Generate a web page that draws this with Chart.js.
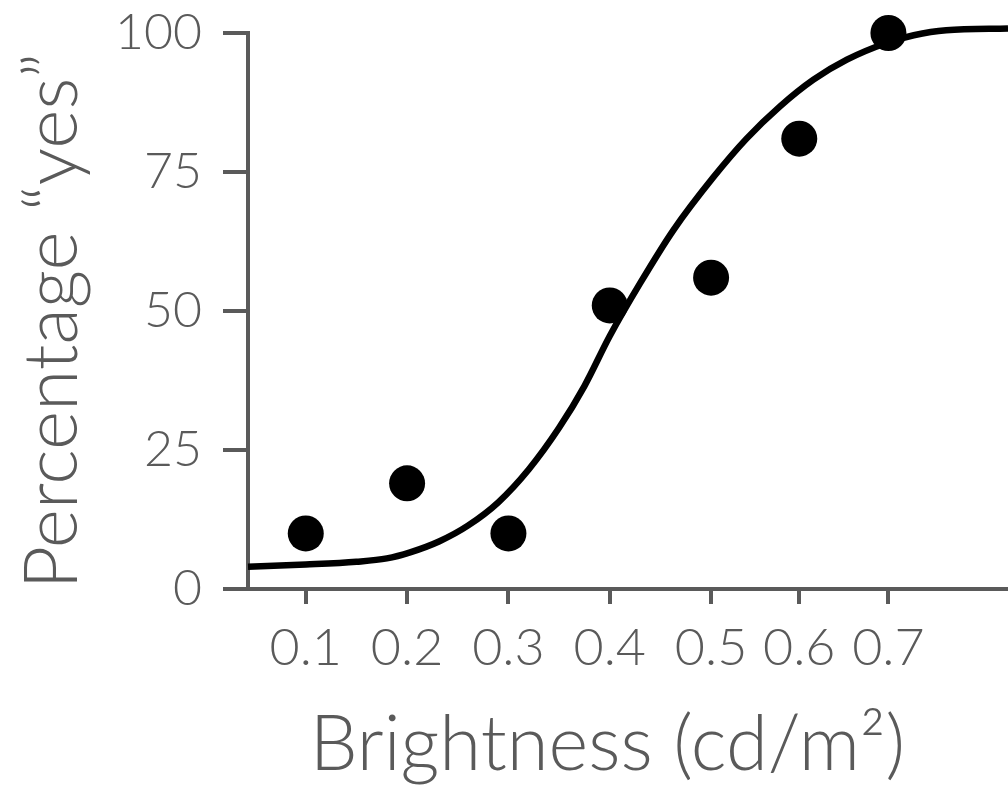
<!DOCTYPE html>
<html>
<head>
<meta charset="utf-8">
<title>Brightness response</title>
<script src="https://cdn.jsdelivr.net/npm/chart.js@4/dist/chart.umd.min.js"></script>
<style>
    html, body { margin: 0; padding: 0; background: #fff; }
    #wrap { width: 1008px; height: 785px; }
</style>
</head>
<body>
<div id="wrap"><canvas id="brightness-chart" width="1008" height="785"></canvas></div>
<script>
// tick labels on the brightness axis and where each one sits on the axis
const brightnessLabels = ['0.1', '0.2', '0.3', '0.4', '0.5', '0.6', '0.7'];
const brightnessPos = [0.1, 0.2, 0.3, 0.4, 0.5, 0.587, 0.675];
const percentTicks = [0, 25, 50, 75, 100];

// measured responses, one per brightness level
const percentYes = [10, 19, 10, 51, 56, 81, 100];

// fitted psychometric curve (axis position, percent)
const fitX = [0.043, 0.100, 0.150, 0.180, 0.203, 0.232, 0.260, 0.290, 0.320, 0.350, 0.375, 0.400, 0.430, 0.463, 0.502, 0.535, 0.568, 0.601, 0.634, 0.673, 0.700, 0.732, 0.793];
const fitY = [4.0, 4.4, 4.9, 5.5, 6.6, 8.6, 11.4, 15.6, 21.5, 29.0, 36.5, 45.5, 55.0, 64.6, 74.0, 81.0, 86.8, 91.6, 95.2, 98.2, 99.6, 100.5, 100.8];

const textGrey = '#5a5a5a';
const axisGrey = '#5a5a5a';
const family = 'Lato, "Open Sans", sans-serif';

const data = {
    datasets: [{
        label: 'Responses',
        data: brightnessPos.map((x, i) => ({ x: x, y: percentYes[i] })),
        backgroundColor: '#000',
        borderWidth: 0,
        pointRadius: 18,
        pointHoverRadius: 18,
        clip: false,
        order: 0
    }, {
        label: 'Fit',
        data: fitX.map((x, i) => ({ x: x, y: fitY[i] })),
        showLine: true,
        borderColor: '#000',
        borderWidth: 6.5,
        pointRadius: 0,
        cubicInterpolationMode: 'monotone',
        clip: false,
        order: 1
    }]
};

const config = {
    type: 'scatter',
    data: data,
    options: {
        responsive: false,
        animation: false,
        events: [],
        layout: {
            autoPadding: false,
            padding: { top: 33, left: 0, right: 0, bottom: 0 }
        },
        plugins: {
            legend: { display: false },
            tooltip: { enabled: false }
        },
        scales: {
            x: {
                type: 'linear',
                min: 0.043,
                max: 0.793,
                afterBuildTicks: scale => { scale.ticks = brightnessPos.map(v => ({ value: v })); },
                afterFit: scale => { scale.height = 196; },
                grid: { drawOnChartArea: false, tickLength: 15, lineWidth: 4, color: axisGrey },
                border: { display: true, color: axisGrey, width: 4 },
                ticks: {
                    callback: (value, index) => brightnessLabels[index],
                    color: textGrey,
                    font: { family: family, size: 52, weight: 300 },
                    padding: 13,
                    maxRotation: 0,
                    autoSkip: false
                },
                title: {
                    display: true,
                    // trailing spaces nudge the centred title a little to the left
                    text: 'Brightness (cd/m²)  ',
                    color: textGrey,
                    font: { family: family, size: 76, weight: 300, lineHeight: 1 },
                    padding: { top: 0, bottom: 2 }
                }
            },
            y: {
                min: 0,
                max: 100,
                afterBuildTicks: scale => { scale.ticks = percentTicks.map(v => ({ value: v })); },
                afterFit: scale => {
                    scale.width = 248;
                    // the label gap should not push the plot area down
                    scale.paddingTop = 0;
                    scale.paddingBottom = 0;
                },
                grid: { drawOnChartArea: false, tickLength: 25, lineWidth: 4, color: axisGrey },
                border: { display: true, color: axisGrey, width: 4 },
                ticks: {
                    color: textGrey,
                    font: { family: family, size: 50, weight: 300 },
                    padding: 21
                },
                title: {
                    display: true,
                    text: 'Percentage “yes” ',
                    color: textGrey,
                    font: { family: family, size: 75, weight: 300, lineHeight: 1 },
                    padding: { top: 15, bottom: 0 }
                }
            }
        }
    }
};

const context = document.getElementById('brightness-chart').getContext('2d');
new Chart(context, config);
</script>
</body>
</html>
